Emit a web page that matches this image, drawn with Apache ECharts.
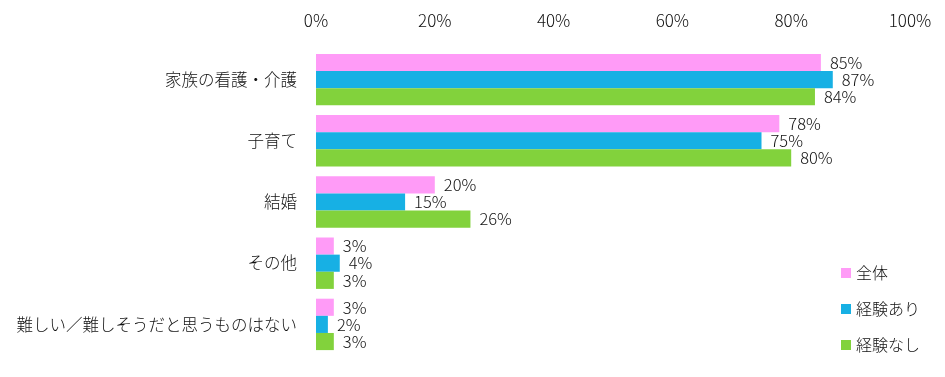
<!DOCTYPE html>
<html lang="ja">
<head>
    <meta charset="UTF-8">
    <title>chart</title>
    <script src="https://cdn.jsdelivr.net/npm/echarts@6/dist/echarts.min.js"></script>
    <style>
        html, body { margin: 0; padding: 0; background: #fff; }
        #chart { width: 945px; height: 377px; }
    </style>
</head>
<body>
<div id="chart"></div>
<script type="text/javascript">
    var categories = ['家族の看護・介護', '子育て', '結婚', 'その他', '難しい／難しそうだと思うものはない'];
    var allValues = [85, 78, 20, 3, 3];
    var withExp = [87, 75, 15, 4, 2];
    var withoutExp = [84, 80, 26, 3, 3];
    var seriesNames = ['全体', '経験あり', '経験なし'];
    var colors = ['#FF9BF7', '#17B0E4', '#82D23C'];

    var font = '"Noto Sans CJK JP", "Noto Sans", sans-serif';

    function makeSeries(name, data, color) {
        return {
            name: name,
            type: 'bar',
            data: data,
            itemStyle: {color: color},
            barGap: '0%',
            barCategoryGap: '16%',
            label: {
                show: true,
                position: 'right',
                distance: 9,
                formatter: '{c}%',
                color: '#111',
                fontSize: 16.5,
                fontWeight: 300,
                fontFamily: font
            }
        };
    }

    var chart = echarts.init(document.getElementById('chart'));
    chart.setOption({
        animation: false,
        textStyle: {fontFamily: font},
        grid: {left: 316, top: 49, width: 594, height: 306, containLabel: false},
        legend: {
            orient: 'vertical',
            left: 836,
            top: 260,
            itemGap: 20,
            itemWidth: 10,
            itemHeight: 10,
            icon: 'rect',
            textStyle: {fontSize: 16, fontWeight: 300, color: '#111', fontFamily: font},
            data: seriesNames
        },
        xAxis: {
            type: 'value',
            position: 'top',
            min: 0,
            max: 100,
            interval: 20,
            axisLine: {show: false},
            axisTick: {show: false},
            splitLine: {show: false},
            axisLabel: {formatter: '{value}%', fontSize: 17, fontWeight: 300, color: '#111', margin: 20}
        },
        yAxis: {
            type: 'category',
            inverse: true,
            data: categories,
            axisLine: {show: false},
            axisTick: {show: false},
            axisLabel: {fontSize: 16.5, fontWeight: 300, color: '#111', margin: 19}
        },
        series: [
            makeSeries(seriesNames[0], allValues, colors[0]),
            makeSeries(seriesNames[1], withExp, colors[1]),
            makeSeries(seriesNames[2], withoutExp, colors[2])
        ]
    });
</script>
</body>
</html>
